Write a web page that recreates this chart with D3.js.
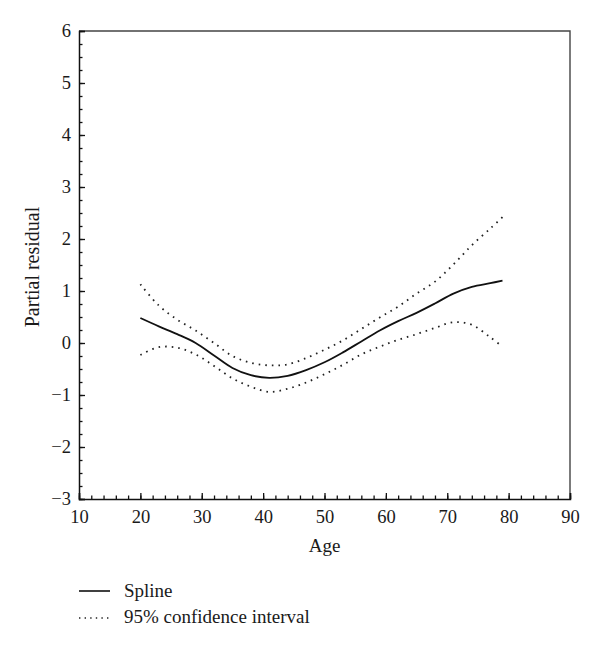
<!DOCTYPE html>
<html>
<head>
<meta charset="utf-8">
<script src="https://cdn.jsdelivr.net/npm/d3@7"></script>
<style>
  body { margin: 0; background: #fff; }
  text { font-family: "Liberation Serif", "DejaVu Serif", serif; fill: #1a1a1a; }
</style>
</head>
<body>
<div id="chart"></div>
<script>
(() => {
  const width = 600;
  const height = 648;
  const margin = { top: 31, right: 30, bottom: 149, left: 79 };

  // values
  const ages = [20, 23, 26, 29, 32, 35, 38, 41, 44, 47, 50, 53, 56, 59, 62, 65, 68, 71, 74, 77, 79];
  const spline = [0.48, 0.32, 0.17, 0.0, -0.24, -0.48, -0.62, -0.67, -0.63, -0.52, -0.37, -0.18, 0.03, 0.24, 0.42, 0.58, 0.76, 0.95, 1.08, 1.15, 1.2];
  const upper = [1.13, 0.72, 0.45, 0.24, 0.0, -0.25, -0.38, -0.43, -0.41, -0.29, -0.13, 0.05, 0.27, 0.49, 0.7, 0.95, 1.18, 1.51, 1.88, 2.2, 2.42];
  const lower = [-0.23, -0.08, -0.09, -0.22, -0.44, -0.68, -0.84, -0.94, -0.88, -0.76, -0.6, -0.42, -0.22, -0.07, 0.06, 0.17, 0.29, 0.4, 0.35, 0.11, -0.07];
  const xTicks = [10, 20, 30, 40, 50, 60, 70, 80, 90];
  const yTicks = [-3, -2, -1, 0, 1, 2, 3, 4, 5, 6];

  const svg = d3
    .select("#chart")
    .append("svg")
    .attr("width", width)
    .attr("height", height);

  const x = d3.scaleLinear().domain([10, 90]).range([margin.left, width - margin.right]);
  const y = d3.scaleLinear().domain([-3, 6]).range([height - margin.bottom, margin.top]);

  // frame on top and right
  svg
    .append("path")
    .attr("d", `M${x(10)},${y(6)}H${x(90)}V${y(-3)}`)
    .attr("fill", "none")
    .attr("stroke", "#444")
    .attr("stroke-width", 1.4);

  // minor ticks
  svg
    .append("g")
    .attr("transform", `translate(0,${y(-3)})`)
    .call(d3.axisBottom(x).tickValues(d3.range(10, 90.1, 2)).tickSize(-3.5).tickFormat(""))
    .call((g) => g.select(".domain").remove());
  svg
    .append("g")
    .attr("transform", `translate(${x(10)},0)`)
    .call(d3.axisLeft(y).tickValues(d3.range(-3, 6.01, 0.25)).tickSize(-3.5).tickFormat(""))
    .call((g) => g.select(".domain").remove());

  // major ticks + labels
  const xAxis = svg
    .append("g")
    .attr("transform", `translate(0,${y(-3)})`)
    .call(d3.axisBottom(x).tickValues(xTicks).tickSize(-6).tickPadding(11));
  const yAxis = svg
    .append("g")
    .attr("transform", `translate(${x(10)},0)`)
    .call(d3.axisLeft(y).tickValues(yTicks).tickSize(-6).tickPadding(8));

  [xAxis, yAxis].forEach((g) => {
    g.select(".domain").attr("stroke", "#111").attr("stroke-width", 1.5);
    g.selectAll("text").style("font-size", "18.5px").attr("fill", "#1a1a1a");
  });
  svg.selectAll(".tick line").attr("stroke", "#111").attr("stroke-width", 1.3);

  // axis titles
  svg
    .append("text")
    .attr("x", (x(10) + x(90)) / 2)
    .attr("y", 552)
    .attr("text-anchor", "middle")
    .style("font-size", "19px")
    .text("Age");
  svg
    .append("text")
    .attr("transform", `translate(39,${(y(-3) + y(6)) / 2 + 2}) rotate(-90)`)
    .attr("text-anchor", "middle")
    .style("font-size", "20px")
    .text("Partial residual");

  const line = (vals) =>
    d3
      .line()
      .x((d, i) => x(ages[i]))
      .y((d) => y(d))
      .curve(d3.curveCatmullRom)(vals);

  [upper, lower].forEach((vals) => {
    svg
      .append("path")
      .attr("d", line(vals))
      .attr("fill", "none")
      .attr("stroke", "#222")
      .attr("stroke-width", 1.8)
      .attr("stroke-dasharray", "1.6 5");
  });
  svg
    .append("path")
    .attr("d", line(spline))
    .attr("fill", "none")
    .attr("stroke", "#111")
    .attr("stroke-width", 1.8);

  // legend
  const legend = svg.append("g").attr("transform", "translate(79,591)");
  legend
    .append("line")
    .attr("x1", 0)
    .attr("x2", 31)
    .attr("stroke", "#111")
    .attr("stroke-width", 1.6);
  legend
    .append("text")
    .attr("x", 45)
    .attr("y", 6)
    .style("font-size", "19px")
    .text("Spline");
  legend
    .append("line")
    .attr("x1", 0)
    .attr("x2", 31)
    .attr("y1", 27)
    .attr("y2", 27)
    .attr("stroke", "#222")
    .attr("stroke-width", 1.4)
    .attr("stroke-dasharray", "1.4 4.2");
  legend
    .append("text")
    .attr("x", 45)
    .attr("y", 32)
    .style("font-size", "19px")
    .text("95% confidence interval");
})();
</script>
</body>
</html>
